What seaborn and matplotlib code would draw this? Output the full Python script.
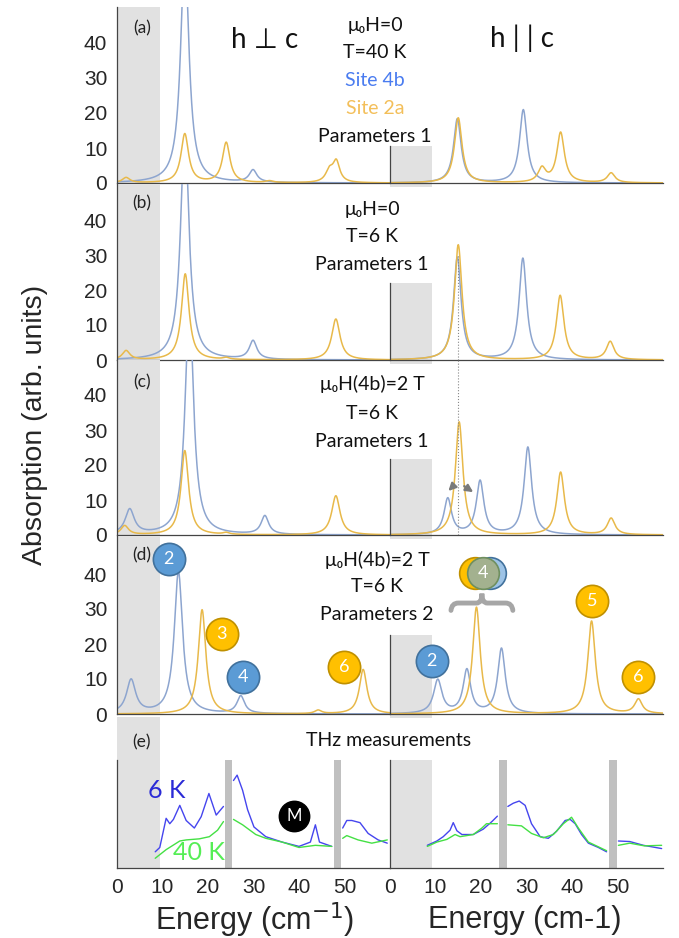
"""Simulated absorption spectra for sites 4b / 2a and THz measurements."""

import matplotlib.pyplot as plt
import numpy as np
import pandas as pd
import seaborn as sns
from matplotlib.patches import PathPatch, Rectangle
from matplotlib.path import Path
from matplotlib.ticker import MultipleLocator, NullFormatter


# Peaks: (energy cm-1, height, half width)
A_PERP_4B = [(14.9, 66.0, 1.1), (29.9, 3.5, 1.0)]
A_PERP_2A = [(2.0, 1.5, 1.0), (14.9, 14.0, 1.0), (24.0, 11.5, 1.0),
             (33.5, 0.5, 1.0), (46.7, 3.3, 1.0), (48.2, 5.8, 0.9)]
A_PAR_4B = [(14.8, 18.3, 1.0), (29.3, 20.9, 1.0)]
A_PAR_2A = [(15.0, 18.6, 1.0), (33.4, 4.0, 1.0), (37.5, 14.3, 1.0), (48.6, 2.8, 1.0)]

B_PERP_4B = [(14.9, 66.0, 1.1), (29.9, 5.3, 1.0)]
B_PERP_2A = [(2.0, 2.6, 1.0), (15.0, 24.6, 1.0), (24.0, 0.5, 0.8), (48.1, 11.7, 1.1)]
B_PAR_4B = [(14.8, 29.3, 1.0), (29.2, 29.0, 1.0)]
B_PAR_2A = [(15.0, 32.9, 1.0), (37.4, 18.4, 1.0), (48.4, 5.2, 1.0)]

C_PERP_4B = [(2.8, 7.1, 1.2), (15.9, 66.0, 1.1), (32.5, 5.3, 1.0)]
C_PERP_2A = [(1.7, 2.6, 1.0), (14.9, 24.1, 1.0), (24.0, 0.5, 0.8), (48.1, 11.2, 1.1)]
C_PAR_4B = [(12.7, 10.3, 1.0), (19.8, 15.3, 1.0), (30.3, 25.0, 1.0)]
C_PAR_2A = [(15.2, 32.3, 1.0), (37.5, 17.9, 1.0), (48.6, 4.7, 1.0)]

D_PERP_4B = [(3.1, 9.6, 1.2), (13.5, 40.6, 1.1), (27.2, 5.0, 1.0)]
D_PERP_2A = [(18.7, 29.8, 1.0), (44.2, 1.0, 0.9), (54.1, 12.7, 1.0)]
D_PAR_4B = [(10.5, 9.6, 1.1), (16.9, 12.4, 1.0), (24.5, 18.6, 1.0)]
D_PAR_2A = [(19.0, 30.5, 1.0), (44.3, 26.5, 1.0), (54.6, 4.1, 1.0)]

# THz measurements, one list of (energy, signal) per gap-free segment
THZ_PERP_6K = [
    [(8.4, 0.15), (9.4, 0.19), (10.8, 0.46), (11.6, 0.41), (12.4, 0.45), (13.8, 0.58),
     (15.2, 0.44), (17.0, 0.37), (18.5, 0.475), (20.2, 0.69), (21.8, 0.49), (23.4, 0.57)],
    [(25.6, 0.81), (26.4, 0.86), (27.6, 0.72), (28.7, 0.54), (30.1, 0.38), (32.7, 0.29),
     (36.3, 0.24), (40.0, 0.20), (42.5, 0.24), (43.6, 0.40), (44.5, 0.24), (47.2, 0.20)],
    [(49.6, 0.37), (50.5, 0.44), (51.6, 0.44), (53.4, 0.42), (55.2, 0.32), (57.4, 0.26),
     (59.4, 0.23)],
]
THZ_PERP_40K = [
    [(8.4, 0.09), (10.8, 0.17), (13.8, 0.25), (15.2, 0.26), (18.1, 0.27), (20.3, 0.29),
     (22.1, 0.35), (23.4, 0.43)],
    [(25.6, 0.45), (27.6, 0.40), (30.5, 0.31), (32.7, 0.275), (36.3, 0.24), (40.0, 0.19),
     (43.6, 0.21), (47.2, 0.20)],
    [(49.6, 0.275), (50.5, 0.30), (53.0, 0.26), (56.0, 0.23), (59.4, 0.26)],
]
THZ_PAR_6K = [
    [(8.2, 0.21), (10.3, 0.25), (11.7, 0.29), (13.2, 0.35), (13.9, 0.42), (14.7, 0.345),
     (15.8, 0.31), (18.3, 0.31), (20.5, 0.36), (22.4, 0.43), (23.6, 0.48)],
    [(25.9, 0.57), (27.1, 0.60), (28.4, 0.62), (29.7, 0.58), (31.1, 0.41), (33.0, 0.29),
     (34.8, 0.275), (36.6, 0.34), (38.5, 0.44), (39.6, 0.45), (40.7, 0.41), (42.1, 0.31),
     (43.6, 0.23), (45.8, 0.19), (47.6, 0.15)],
    [(50.2, 0.25), (52.7, 0.245), (55.7, 0.21), (59.7, 0.18)],
]
THZ_PAR_40K = [
    [(8.2, 0.20), (10.3, 0.24), (12.5, 0.265), (14.3, 0.31), (15.4, 0.29), (18.3, 0.31),
     (20.2, 0.37), (21.2, 0.41), (23.6, 0.41)],
    [(25.9, 0.40), (28.9, 0.39), (31.1, 0.32), (33.7, 0.28), (35.9, 0.31), (38.1, 0.41),
     (39.9, 0.47), (41.4, 0.37), (43.6, 0.24), (47.6, 0.16)],
    [(50.2, 0.21), (52.7, 0.23), (55.9, 0.205), (59.7, 0.21)],
]

# Numbered transition markers in panel (d): (label, energy, height, site)
D_PERP_MARKERS = [("2", 11.4, 44.3, "4b"), ("3", 23.0, 22.9, "2a"),
                  ("4", 27.8, 10.7, "4b"), ("6", 50.0, 13.5, "2a")]
D_PAR_MARKERS = [("2", 9.2, 15.2, "4b"), ("5", 44.5, 32.3, "2a"), ("6", 54.6, 10.7, "2a")]

ROW_TEXT = {
    "a": ["μ₀H=0", "T=40 K", "Site 4b", "Site 2a", "Parameters 1"],
    "b": ["μ₀H=0", "T=6 K", "Parameters 1"],
    "c": ["μ₀H(4b)=2 T", "T=6 K", "Parameters 1"],
    "d": ["μ₀H(4b)=2 T", "T=6 K", "Parameters 2"],
}

# Layout in pixels of the 679x938 figure
FIG_W, FIG_H = 679, 938
LEFT_X = (117, 390)
RIGHT_X = (390, 663)
ROWS = {"a": (7, 183), "b": (184, 360), "c": (360, 535), "d": (536, 714)}
E_ROW = (760, 868)
PX_PER_UNIT = 3.5
RIGHT_BOX = {"a": 10.5, "b": 22.0, "c": 21.7, "d": 22.5}
TEXT_X = {"a": 375, "b": 372, "c": 372, "d": 377}
TEXT_Y = {"a": [25, 53, 80, 108, 137], "b": [210, 237, 264],
          "c": [384, 413, 441], "d": [560, 587, 614]}
LABEL_Y = {"a": 28, "b": 203, "c": 382, "d": 555}
TEXT_COLORS = {"Site 4b": "#4a7cf0", "Site 2a": "#f3bf5a"}

SITE_COLORS = {"4b": "#8da5cf", "2a": "#e8b94a"}
MARKER_COLORS = {"4b": ("#5b9bd5", "#41719c"), "2a": ("#ffc000", "#bf9000")}
SHADE = "#e1e1e1"
BAR = "#c0c0c0"
TEXT_FONT = ["Lato", "DejaVu Sans"]

PANELS = {
    "a": (A_PERP_4B, A_PERP_2A, A_PAR_4B, A_PAR_2A),
    "b": (B_PERP_4B, B_PERP_2A, B_PAR_4B, B_PAR_2A),
    "c": (C_PERP_4B, C_PERP_2A, C_PAR_4B, C_PAR_2A),
    "d": (D_PERP_4B, D_PERP_2A, D_PAR_4B, D_PAR_2A),
}


def lorentz_sum(peaks, energy):
    total = np.zeros_like(energy)
    for center, height, hwhm in peaks:
        total += height / (1 + ((energy - center) / hwhm) ** 2)
    return total


def add_axes(fig, xs, rows):
    x0, x1 = xs
    top, bottom = rows
    return fig.add_axes([x0 / FIG_W, 1 - bottom / FIG_H,
                         (x1 - x0) / FIG_W, (bottom - top) / FIG_H])


def fig_text(fig, px, py, text, **kwargs):
    fig.text(px / FIG_W, 1 - py / FIG_H, text, ha="center", va="center", **kwargs)


def style_axis(ax, ymax):
    ax.set_xlim(0, 60)
    ax.set_ylim(0, ymax)
    ax.set_facecolor("none")
    for side in ["top", "right"]:
        ax.spines[side].set_visible(False)
    for side in ["left", "bottom"]:
        ax.spines[side].set_color("#444444")
        ax.spines[side].set_linewidth(0.9)
    ax.xaxis.set_major_locator(MultipleLocator(10))
    ax.xaxis.set_minor_locator(MultipleLocator(5))
    ax.tick_params(axis="both", which="both", direction="in", length=3,
                   color="#444444", labelsize=15, pad=7)
    ax.set_xlabel("")
    ax.set_ylabel("")


def draw_spectra(ax, peaks_4b, peaks_2a, energy):
    frame = pd.concat([
        pd.DataFrame({"energy": energy, "absorption": lorentz_sum(peaks_4b, energy), "site": "4b"}),
        pd.DataFrame({"energy": energy, "absorption": lorentz_sum(peaks_2a, energy), "site": "2a"}),
    ])
    sns.lineplot(data=frame, x="energy", y="absorption", hue="site",
                 hue_order=["4b", "2a"], palette=SITE_COLORS, estimator=None,
                 linewidth=1.1, legend=False, ax=ax)


def draw_markers(ax, markers):
    for label, x, y, site in markers:
        face, edge = MARKER_COLORS[site]
        ax.scatter([x], [y], s=540, color=face, edgecolor=edge, linewidth=1.2,
                   zorder=5, clip_on=False)
        ax.text(x, y, label, color="white", fontsize=13, ha="center", va="center",
                family=TEXT_FONT, zorder=6)


def draw_thz(ax, segments, color):
    rows = []
    for index, segment in enumerate(segments):
        for energy, signal in segment:
            rows.append({"energy": energy, "signal": signal, "segment": index})
    frame = pd.DataFrame(rows)
    sns.lineplot(data=frame, x="energy", y="signal", units="segment", estimator=None,
                 color=color, linewidth=1.0, ax=ax)


def main():
    sns.set_theme(style="white")
    plt.rcParams["font.family"] = ["Liberation Sans", "DejaVu Sans"]
    fig = plt.figure(figsize=(FIG_W / 100, FIG_H / 100), dpi=100)
    energy = np.linspace(0, 60, 1500)

    for key, rows in ROWS.items():
        ymax = (rows[1] - rows[0]) / PX_PER_UNIT
        perp_4b, perp_2a, par_4b, par_2a = PANELS[key]

        left = add_axes(fig, LEFT_X, rows)
        left.axvspan(0, 9.4, color=SHADE, lw=0, zorder=0)
        draw_spectra(left, perp_4b, perp_2a, energy)
        style_axis(left, ymax)
        left.set_yticks([0, 10, 20, 30, 40])
        left.yaxis.set_minor_locator(MultipleLocator(5))
        left.xaxis.set_major_formatter(NullFormatter())

        right = add_axes(fig, RIGHT_X, rows)
        box = RIGHT_BOX[key]
        right.add_patch(Rectangle((0, -1.2), 9.3, box + 1.2, color=SHADE, lw=0,
                                  zorder=0, clip_on=False))
        draw_spectra(right, par_4b, par_2a, energy)
        style_axis(right, ymax)
        right.spines["left"].set_bounds(0, box)
        right.set_yticks(np.arange(0, box, 5))
        right.yaxis.set_major_formatter(NullFormatter())
        right.xaxis.set_major_formatter(NullFormatter())

        fig_text(fig, 141.7, LABEL_Y[key], f"({key})", fontsize=12.5,
                 family=TEXT_FONT, color="#222222")
        for line, py in zip(ROW_TEXT[key], TEXT_Y[key]):
            fig_text(fig, TEXT_X[key], py, line, fontsize=14, family=TEXT_FONT,
                     color=TEXT_COLORS.get(line, "#111111"))

        if key == "b":
            right.plot([15.0, 15.0], [0, 30], color="#888888", lw=0.8, ls=":")
        if key == "c":
            right.axvline(15.0, color="#888888", lw=0.8, ls=":")
            for start, end in [((14.2, 14.4), (12.4, 12.0)), ((15.8, 14.4), (18.8, 11.8))]:
                right.annotate("", xy=end, xytext=start,
                               arrowprops=dict(arrowstyle="-|>", color="#7a7a7a",
                                               lw=1.6, mutation_scale=11))
        if key == "d":
            draw_markers(left, D_PERP_MARKERS)
            draw_markers(right, D_PAR_MARKERS)
            for x, face, edge in [(18.7, "#ffc000", "#bf9000"),
                                  (22.0, "#9dc3e6", "#41719c"),
                                  (20.5, "#a3b18f", "#6f8f5f")]:
                right.scatter([x], [40.2], s=520, color=face, edgecolor=edge,
                              linewidth=1.2, zorder=5, clip_on=False)
            right.text(20.5, 40.2, "4", color="white", fontsize=13, ha="center",
                       va="center", family=TEXT_FONT, zorder=6)
            brace = Path(
                [(13.4, 29.6), (13.6, 31.7), (15.0, 31.7), (19.0, 31.7),
                 (20.2, 31.7), (20.2, 34.4), (20.2, 31.7), (21.4, 31.7),
                 (25.4, 31.7), (26.8, 31.7), (27.0, 29.6)],
                [Path.MOVETO, Path.CURVE3, Path.CURVE3, Path.LINETO,
                 Path.CURVE3, Path.CURVE3, Path.CURVE3, Path.CURVE3,
                 Path.LINETO, Path.CURVE3, Path.CURVE3])
            right.add_patch(PathPatch(brace, facecolor="none", edgecolor="#a6a6a6",
                                      lw=3.5, capstyle="round", zorder=4, clip_on=False))

    fig_text(fig, 265, 40, "h ⊥ c", fontsize=20, family=TEXT_FONT, color="#111111")
    fig_text(fig, 522, 38, "h | | c", fontsize=20, family=TEXT_FONT, color="#111111")

    # (e) THz measurements
    left = add_axes(fig, LEFT_X, E_ROW)
    left.axvspan(0, 9.4, ymin=0, ymax=1.4, color=SHADE, lw=0, zorder=0, clip_on=False)
    for x0, x1 in [(23.8, 25.3), (47.8, 49.3)]:
        left.axvspan(x0, x1, color=BAR, lw=0, zorder=0)
    draw_thz(left, THZ_PERP_6K, "#4545ee")
    draw_thz(left, THZ_PERP_40K, "#44e044")
    style_axis(left, 1.0)
    left.set_yticks([])
    left.set_xticks([0, 10, 20, 30, 40, 50])
    left.scatter([38.9], [0.48], s=480, color="black", zorder=5)
    left.text(38.9, 0.48, "M", color="white", fontsize=12, ha="center", va="center",
              family=TEXT_FONT, zorder=6)
    left.text(10.9, 0.72, "6 K", color="#2b2bd6", fontsize=18, ha="center",
              va="center", family=TEXT_FONT)
    left.text(17.9, 0.14, "40 K", color="#55ee55", fontsize=18, ha="center",
              va="center", family=TEXT_FONT)
    left.text(5.4, 1.16, "(e)", color="#222222", fontsize=12.5, ha="center",
              va="center", family=TEXT_FONT, clip_on=False)

    right = add_axes(fig, RIGHT_X, E_ROW)
    right.axvspan(0, 9.3, color=SHADE, lw=0, zorder=0)
    for x0, x1 in [(24.0, 25.7), (48.1, 49.9)]:
        right.axvspan(x0, x1, color=BAR, lw=0, zorder=0)
    draw_thz(right, THZ_PAR_6K, "#4545ee")
    draw_thz(right, THZ_PAR_40K, "#44e044")
    style_axis(right, 1.0)
    right.set_yticks([])
    right.set_xticks([0, 10, 20, 30, 40, 50])

    fig_text(fig, 389, 740, "THz measurements", fontsize=14, family=TEXT_FONT,
             color="#111111")
    fig_text(fig, 35, 425, "Absorption (arb. units)", fontsize=20.5, rotation=90)
    fig_text(fig, 254, 920, "Energy (cm$^{-1}$)", fontsize=22)
    fig_text(fig, 525, 920, "Energy (cm-1)", fontsize=22)

    fig.savefig("out.png", dpi=100)
    plt.close(fig)


if __name__ == "__main__":
    main()
